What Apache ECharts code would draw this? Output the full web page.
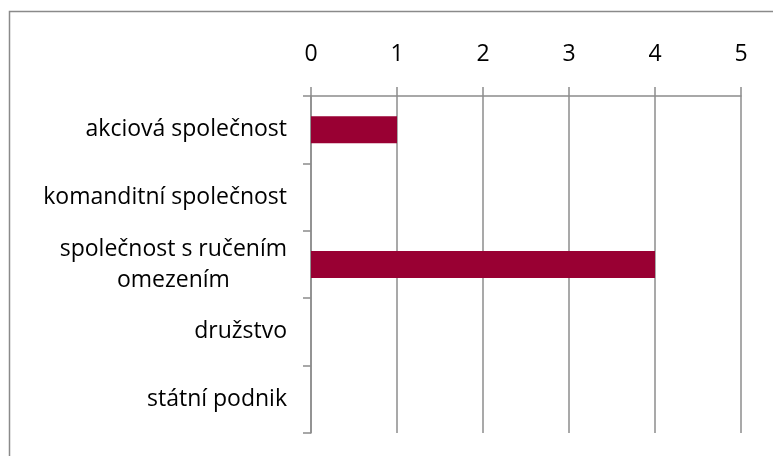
<!DOCTYPE html>
<html><head><meta charset="utf-8">
<script src="https://cdn.jsdelivr.net/npm/echarts@6/dist/echarts.min.js"></script>
<style>html,body{margin:0;padding:0;background:#fff}#c{width:773px;height:456px}</style>
</head><body><div id="c"></div>
<script>
const categories = ['akciová společnost', 'komanditní společnost', 'společnost s ručením omezením', 'družstvo', 'státní podnik'];
const categoryLabels = ['akciová společnost', 'komanditní společnost', 'společnost s ručením\nomezením', 'družstvo', 'státní podnik'];
const values = [1, 0, 4, 0, 0];
const xMin = 0, xMax = 5, xStep = 1;

const FONT = 'Open Sans';
const FS = 23;
const GRID = '#8c8c8c';
const chart = echarts.init(document.getElementById('c'), null, {renderer: 'canvas'});
chart.setOption({
  backgroundColor: '#fff',
  animation: false,
  graphic: [{
    type: 'rect', left: 7, top: 9, shape: {x: 0, y: 0, width: 900, height: 600},
    style: {fill: 'none', stroke: '#8a8a8a', lineWidth: 1.5}, silent: true, z: -10
  }],
  grid: {left: 311, right: 32, top: 96, bottom: 23, containLabel: false},
  xAxis: {
    type: 'value', position: 'top', min: xMin, max: xMax, interval: xStep,
    axisLine: {show: true, lineStyle: {color: GRID, width: 1.5}},
    axisTick: {show: true, length: 9, lineStyle: {color: GRID, width: 1.5}},
    splitLine: {show: true, lineStyle: {color: GRID, width: 1.5}},
    axisLabel: {color: '#000', fontFamily: FONT, fontSize: FS, margin: 30}
  },
  yAxis: {
    type: 'category', inverse: true, data: categories,
    axisLine: {show: true, lineStyle: {color: GRID, width: 1.5}},
    axisTick: {show: true, length: 8, lineStyle: {color: GRID, width: 1.5}},
    splitLine: {show: false},
    axisLabel: {
      color: '#000', fontFamily: FONT, fontSize: FS, margin: 24, lineHeight: 31,
      formatter: function (v, i) {
        return categoryLabels[i].split('\n').map(s => '{c|' + s + '}').join('\n');
      },
      rich: {c: {align: 'center', color: '#000', fontFamily: FONT, fontSize: FS, lineHeight: 31}}
    }
  },
  series: [{
    type: 'bar', data: values, barWidth: '40%',
    itemStyle: {color: '#990033'}
  }]
});
</script></body></html>
